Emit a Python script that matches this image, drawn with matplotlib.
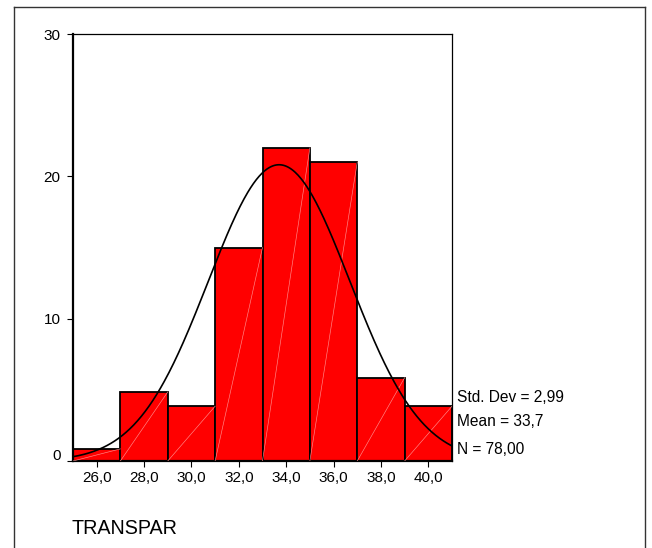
import numpy as np
import matplotlib
matplotlib.use("Agg")
import matplotlib.pyplot as plt
import matplotlib.transforms as mtransforms

# Data
bin_centers = [26, 28, 30, 32, 34, 36, 38, 40]
bar_heights = [0.85, 4.85, 3.85, 15.0, 22.0, 21.0, 5.85, 3.85]
bin_width = 2.0
mean_val = 33.7
std_val = 2.99
n_val = 78
x_tick_labels = ["26,0", "28,0", "30,0", "32,0", "34,0", "36,0", "38,0", "40,0"]
y_ticks = [0, 10, 20, 30]
stats_labels = ["Std. Dev = 2,99", "Mean = 33,7", "N = 78,00"]
var_name = "TRANSPAR"

plt.rcParams['font.family'] = ['Liberation Sans', 'DejaVu Sans']

W, H = 652, 548
fig = plt.figure(figsize=(W / 100, H / 100), dpi=100)

# outer frame (no bottom line)
fl, fr, ft = 14 / W, 645 / W, 1 - 7 / H
fig.add_artist(plt.Line2D([fl, fl], [0, ft], color='#333333', lw=1.0))
fig.add_artist(plt.Line2D([fl, fr], [ft, ft], color='#333333', lw=1.0))
fig.add_artist(plt.Line2D([fr, fr], [0, ft], color='#333333', lw=1.0))

ax_l, ax_r, ax_t, ax_b = 73, 452, 34, 461
ax = fig.add_axes([ax_l / W, 1 - ax_b / H, (ax_r - ax_l) / W, (ax_b - ax_t) / H])

lefts = [c - bin_width / 2 for c in bin_centers]
ax.bar(bin_centers, bar_heights, width=bin_width, color='#FF0000',
       edgecolor='black', linewidth=1.3, zorder=2)
# thin diagonal lines inside each bar
for lft, h in zip(lefts, bar_heights):
    ax.plot([lft, lft + bin_width], [0, h], color='#FF8C8C', lw=0.45, zorder=3)

x0, x1 = lefts[0], lefts[-1] + bin_width
xs = np.linspace(x0, x1, 400)
ys = n_val * bin_width / (std_val * np.sqrt(2 * np.pi)) * np.exp(-0.5 * ((xs - mean_val) / std_val) ** 2)
ax.plot(xs, ys, color='black', lw=1.2, zorder=4)

ax.set_xlim(x0, x1)
ax.set_ylim(0, 30)
ax.set_xticks(bin_centers)
ax.set_xticklabels(x_tick_labels)
ax.set_yticks(y_ticks)
ax.set_yticklabels([str(v) for v in y_ticks])
ax.tick_params(axis='both', direction='out', length=4, width=0.8, labelsize=11, pad=3)
ax.tick_params(axis='y', pad=5)

# the zero label sits slightly above its tick
zero_lbl = ax.get_yticklabels()[0]
zero_lbl.set_transform(zero_lbl.get_transform() +
                       mtransforms.ScaledTranslation(0, 7 / 100, fig.dpi_scale_trans))

for s in ['top', 'right']:
    ax.spines[s].set_linewidth(0.9)
for s in ['left', 'bottom']:
    ax.spines[s].set_linewidth(1.6)

# stats text
for txt, y in zip(stats_labels, [397, 422, 449]):
    fig.text(457 / W, 1 - y / H, txt, fontsize=11.2, va='center', ha='left')

fig.text(72 / W, 1 - 528 / H, var_name, fontsize=14.2, va='center', ha='left')

fig.savefig('out.png', dpi=100)
